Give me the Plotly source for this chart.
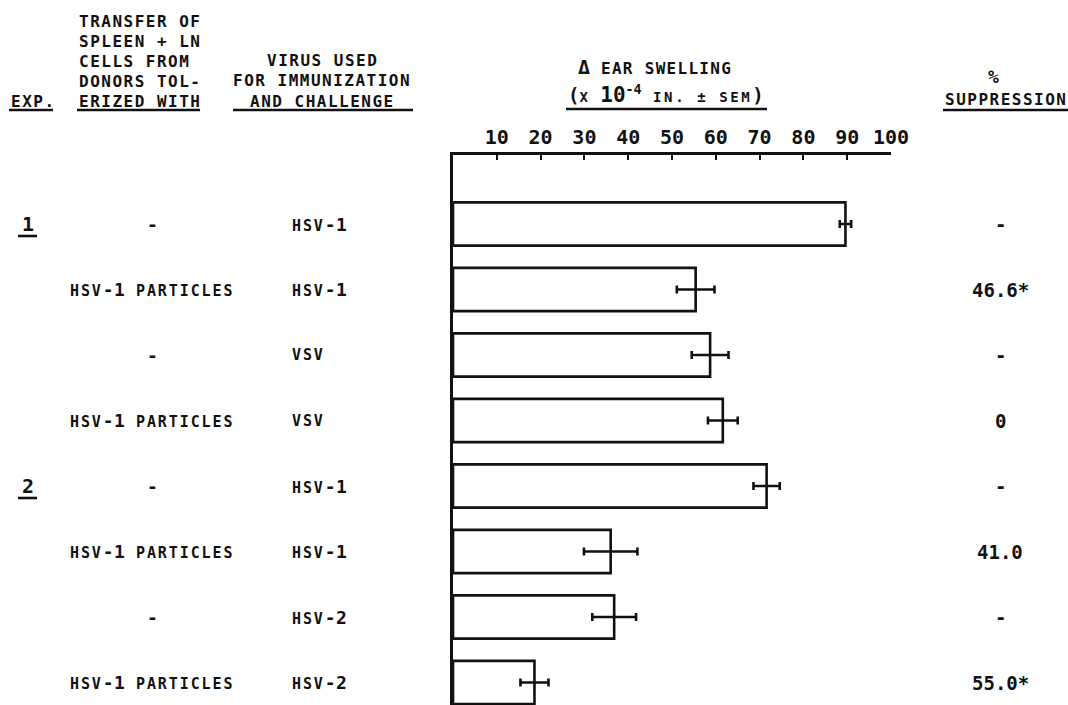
import re
import plotly.graph_objects as go

# ---------------- data ----------------
exp_labels = ["1", "", "", "", "2", "", "", ""]
donors = ["-", "HSV-1 PARTICLES", "-", "HSV-1 PARTICLES",
          "-", "HSV-1 PARTICLES", "-", "HSV-1 PARTICLES"]
viruses = ["HSV-1", "HSV-1", "VSV", "VSV", "HSV-1", "HSV-1", "HSV-2", "HSV-2"]
swelling = [89.6, 55.4, 58.7, 61.6, 71.6, 36.0, 36.8, 18.6]
sem = [1.3, 4.3, 4.2, 3.4, 3.0, 6.1, 5.0, 3.2]
suppression = ["-", "46.6*", "-", "0", "-", "41.0", "-", "55.0*"]
tick_vals = [10, 20, 30, 40, 50, 60, 70, 80, 90, 100]
tick_text = [str(v) for v in tick_vals]
rows = list(range(len(swelling)))

# ---------------- layout geometry (pixels) ----------------
WIDTH, HEIGHT = 1068, 705
L, R, T, B = 453, 177, 155, 0
PW = WIDTH - L - R
PH = HEIGHT - T - B
ROW0, ROWSTEP = 224, 65.5   # pixel centre of first row, row pitch

def X(px):
    return (px - L) / PW

def Y(py):
    return (HEIGHT - B - py) / PH

FONT = "DejaVu Sans Mono"
BLACK = "#111111"
WEIGHT = "bold"


def spaced(s, size, ls):
    return f"<span style='font-size:{size}px;letter-spacing:{ls}px'>{s}</span>"


def smallcaps(s, small=15, big=18, ls_small=1.9, ls_big=0.3):
    """letters in small caps, digits/signs at full size"""
    out = []
    for run in re.findall(r"[A-Za-z .±]+|[^A-Za-z .±]+", s):
        if re.match(r"[A-Za-z .±]", run):
            out.append(spaced(run, small, ls_small))
        else:
            out.append(spaced(run, big, ls_big))
    return "".join(out)


fig = go.Figure()
fig.add_trace(go.Bar(
    x=swelling, y=rows, orientation="h", width=0.66,
    marker=dict(color="white", line=dict(color=BLACK, width=2.6)),
    error_x=dict(type="data", array=sem, visible=True,
                 color=BLACK, thickness=2.6, width=4),
    showlegend=False, hoverinfo="x",
))

y_top = (T - ROW0) / ROWSTEP
y_bot = (HEIGHT - B - ROW0) / ROWSTEP

fig.update_layout(
    width=WIDTH, height=HEIGHT,
    margin=dict(l=L, r=R, t=T, b=B, pad=0),
    plot_bgcolor="white", paper_bgcolor="white",
    font=dict(family=FONT, color=BLACK, size=16, weight=WEIGHT),
    xaxis=dict(side="top", range=[0, 100], tickvals=tick_vals, ticktext=tick_text,
               ticks="inside", ticklen=5, tickwidth=2.4, tickcolor=BLACK,
               showline=True, linewidth=2.6, linecolor=BLACK,
               showgrid=False, zeroline=False,
               tickfont=dict(family=FONT, size=20, color=BLACK, weight=WEIGHT)),
    yaxis=dict(range=[y_bot, y_top], showline=True, linewidth=2.6, linecolor=BLACK,
               showgrid=False, zeroline=False, showticklabels=False, ticks=""),
    bargap=0.3,
)

ann = []
def text(px, py, s, size=16, xanchor="left", yanchor="middle"):
    ann.append(dict(x=X(px), y=Y(py), xref="paper", yref="paper", text=s,
                    showarrow=False, xanchor=xanchor, yanchor=yanchor,
                    font=dict(family=FONT, size=size, color=BLACK, weight=WEIGHT)))

HS, HL = 16, 1.5   # header font size / letter spacing
# headers
for i, line in enumerate(["TRANSFER OF", "SPLEEN + LN", "CELLS FROM",
                          "DONORS TOL-", "ERIZED WITH"]):
    text(77, 21 + 20 * i, spaced(line, HS, HL))
text(9, 101, spaced("EXP.", HS, HL))
for i, line in enumerate(["VIRUS USED", "FOR IMMUNIZATION", "AND CHALLENGE"]):
    text(322, 60 + 20.5 * i, spaced(line, HS, HL), xanchor="center")
text(576, 67, "<span style='font-size:20px'>Δ</span>" + spaced(" EAR SWELLING", 16, 1.3), size=19)
text(566, 95,
     "<span style='font-size:19px'>(</span>" + spaced("X ", 14, 2.0)
     + "<span style='font-size:21px'>10</span><sup>-4</sup> "
     + spaced("IN. ± SEM", 14, 2.6) + "<span style='font-size:19px'>)</span>",
     size=19)
text(993, 76, "%", size=18, xanchor="center")
text(1006, 100, spaced("SUPPRESSION", HS, HL), xanchor="center")

# rows
for i in rows:
    py = ROW0 + ROWSTEP * i
    if exp_labels[i]:
        text(28, py, exp_labels[i], size=20, xanchor="center")
    text(152, py, smallcaps(donors[i]), size=16, xanchor="center")
    text(290, py, smallcaps(viruses[i]), size=16)
    text(1000, py, suppression[i], size=19, xanchor="center")
fig.update_layout(annotations=ann)

# underlines
shapes = []
def uline(x0, x1, py):
    shapes.append(dict(type="line", xref="paper", yref="paper",
                       x0=X(x0), x1=X(x1), y0=Y(py), y1=Y(py),
                       line=dict(color=BLACK, width=2.6)))
uline(9, 53, 110)
uline(77, 200, 110)
uline(233, 413, 110)
uline(566, 767, 109)
uline(943, 1068, 110)
for i in rows:
    if exp_labels[i]:
        py = ROW0 + ROWSTEP * i + 12
        uline(18, 37, py)
fig.update_layout(shapes=shapes)

fig.write_html("out.html", config={"displayModeBar": False},
               post_script="document.body.style.margin='0';document.body.style.overflow='hidden';")
